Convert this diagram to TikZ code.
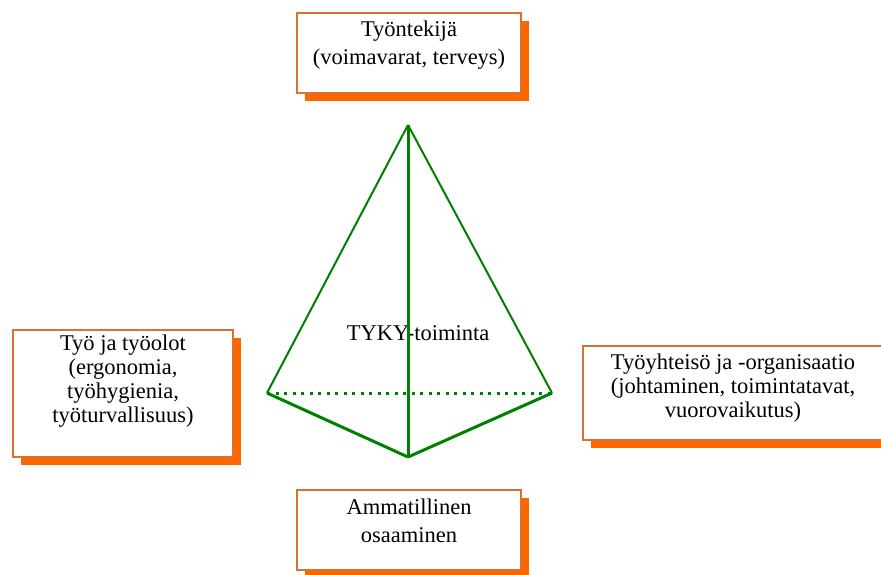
\documentclass[tikz,border=0pt]{standalone}
\usepackage{fontspec}
\setmainfont{Liberation Serif}
\usetikzlibrary{positioning,shadows}
\definecolor{vihrea}{RGB}{0,128,0}
\definecolor{oranssi}{RGB}{255,102,0}
\definecolor{reuna}{RGB}{215,115,50}

\begin{document}
\begin{tikzpicture}[x=1pt,y=-1pt,
                    kehys/.style={draw=reuna,line width=1.5pt,fill=white,
                      drop shadow={fill=oranssi,opacity=1,shadow xshift=8pt,shadow yshift=-8pt}},
                    teksti/.style={align=center,inner sep=0pt,font=\fontsize{22.5}{#1}\selectfont},
                    teksti/.default=24,
                    ohut/.style={draw=vihrea,line width=2pt},
                    paksu/.style={draw=vihrea,line width=3pt}]

  \useasboundingbox (0,0) rectangle (881,574);

  % laatikot
  \node[kehys,minimum width=224pt,minimum height=80pt]  (1) at (409,53)    {};
  \node[kehys,minimum width=220pt,minimum height=127pt] (2) at (123,393.5) {};
  \node[kehys,minimum width=300pt,minimum height=94pt]  (3) at (733,393)   {};
  \node[kehys,minimum width=224pt,minimum height=80pt]  (4) at (409,530)   {};

  \node[teksti=28] (t1) [below=8pt of 1.north] {Työntekijä\\(voimavarat, terveys)};
  \node[teksti]    (t2) [below=5pt of 2.north] {Työ ja työolot\\(ergonomia,\\työhygienia,\\työturvallisuus)};
  \node[teksti]    (t3) [below=8pt of 3.north] {Työyhteisö ja -organisaatio\\(johtaminen, toimintatavat,\\vuorovaikutus)};
  \node[teksti=28] (t4) [below=9pt of 4.north] {Ammatillinen\\osaaminen};

  % pyramidi
  \node[teksti] (tyky) at (418,333) {TYKY-toiminta};

  \coordinate (huippu) at (408,125);
  \coordinate (vasen)  at (267,393);
  \coordinate (oikea)  at (552,393);
  \coordinate (ala)    at (408,457);

  \path (huippu) edge[ohut] (vasen)
                 edge[ohut] (oikea)
                 edge[paksu] (ala)
        (vasen)  edge[paksu] (ala)
        (oikea)  edge[paksu] (ala)
        (vasen)  edge[draw=vihrea,line width=3pt,dash pattern=on 3pt off 5.5pt] (oikea);
\end{tikzpicture}
\end{document}
